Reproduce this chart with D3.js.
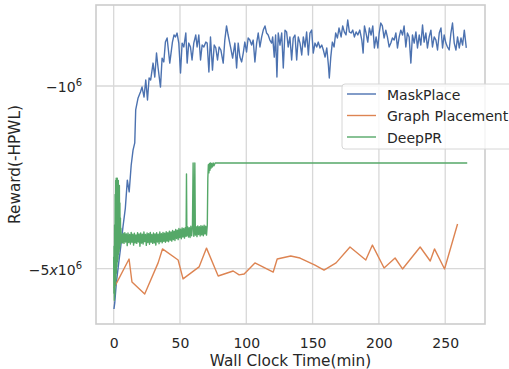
<!DOCTYPE html>
<html>
<head>
<meta charset="utf-8">
<script src="https://cdn.jsdelivr.net/npm/d3@7"></script>
<style>
  body { margin: 0; background: #fff; }
  text { font-family: "DejaVu Sans", sans-serif; fill: #262626; }
</style>
</head>
<body>
<div id="chart"></div>
<script>
// [time (min), reward magnitude in millions]  -> reward = -m * 1e6
var maskPlace = [
  [0.2,7.13],[0.8,6.76],[2.0,5.67],[3.8,4.75],[5.3,4.13],[7.0,3.46],[8.8,2.93],[10.3,2.29],
  [11.7,2.54],[13.2,2.01],[14.6,1.76],[15.9,1.65],[16.6,1.235],[18.4,1.111],[20.2,1.054],[21.4,1.009],
  [22.9,1.102],[24.2,0.948],[25.5,1.131],[26.7,0.932],[27.9,0.948],[29.7,0.817],[31.0,0.924],[32.3,0.748],
  [33.5,0.853],[35.3,1.009],[36.5,0.782],[37.8,0.809],[39.0,0.679],[40.3,0.655],[42.3,0.817],[44.3,0.679],
  [45.5,0.638],[46.6,0.649],[47.8,0.627],[49.1,0.685],[50.4,0.892],[51.6,0.685],[52.9,0.709],[54.4,0.627],
  [55.4,0.817],[56.6,0.685],[57.9,0.709],[59.1,0.795],[60.4,0.685],[61.9,0.638],[62.9,0.709],[64.2,0.638],
  [65.5,0.795],[66.7,0.697],[68.0,0.709],[69.5,0.679],[70.5,0.685],[71.8,0.884],[73.0,0.649],[74.5,0.869],
  [75.8,0.697],[77.0,0.715],[78.3,0.795],[79.5,0.709],[80.8,0.728],[82.6,0.817],[83.8,0.667],[85.1,0.589],
  [86.3,0.638],[88.1,0.709],[89.7,0.782],[91.4,0.685],[92.7,0.853],[93.9,0.685],[95.2,0.775],[96.5,0.809],
  [97.7,0.748],[98.9,0.679],[100.2,0.741],[101.4,0.655],[102.7,0.667],[104.0,0.697],[105.2,0.667],[106.5,0.809],
  [107.8,0.685],[109.0,0.627],[110.3,0.709],[111.6,0.649],[112.8,0.611],[114.1,0.589],[115.3,0.627],[116.5,0.638],
  [117.8,0.667],[119.1,0.685],[119.9,0.649],[121.1,0.775],[122.1,0.638],[123.1,0.924],[124.1,0.627],[125.4,0.697],
  [126.7,0.627],[127.9,0.853],[129.2,0.611],[130.4,0.621],[131.6,0.709],[132.9,0.649],[134.2,0.795],[135.4,0.655],
  [136.7,0.638],[138.0,0.795],[139.2,0.649],[140.5,0.685],[141.8,0.761],[143.0,0.649],[144.3,0.709],[145.5,0.621],
  [146.8,0.761],[148.0,0.627],[149.3,0.611],[150.5,0.748],[151.8,0.685],[153.1,0.709],[154.3,0.679],[155.6,0.715],
  [156.9,0.697],[158.1,0.728],[159.4,0.775],[160.7,0.715],[161.9,0.831],[162.6,0.932],[163.7,0.775],[164.9,0.679],
  [166.2,0.709],[167.4,0.627],[168.7,0.655],[169.9,0.600],[171.5,0.649],[172.7,0.589],[173.9,0.621],[175.2,0.638],
  [176.5,0.559],[177.7,0.621],[179.0,0.627],[180.3,0.611],[181.5,0.649],[182.8,0.621],[184.1,0.638],[185.6,0.611],
  [187.1,0.667],[188.1,0.748],[189.1,0.589],[190.3,0.627],[191.6,0.679],[192.8,0.600],[194.1,0.638],[195.4,0.589],
  [196.6,0.715],[197.9,0.649],[199.2,0.715],[200.2,0.627],[201.4,0.574],[202.6,0.589],[203.9,0.655],[205.2,0.611],
  [206.4,0.649],[207.7,0.709],[209.0,0.685],[210.2,0.655],[211.5,0.667],[212.8,0.627],[214.0,0.715],[215.3,0.649],
  [216.5,0.611],[217.8,0.638],[219.0,0.589],[220.3,0.709],[221.5,0.627],[222.8,0.649],[224.1,0.817],[225.3,0.638],
  [226.6,0.685],[227.9,0.621],[229.1,0.715],[230.4,0.638],[231.6,0.697],[232.9,0.584],[234.1,0.679],[235.4,0.627],
  [236.6,0.715],[237.9,0.649],[239.2,0.611],[240.4,0.709],[241.7,0.649],[243.0,0.667],[244.2,0.728],[245.5,0.627],
  [246.8,0.600],[248.0,0.715],[249.2,0.638],[250.5,0.685],[251.7,0.709],[253.0,0.728],[254.3,0.627],[255.5,0.574],
  [256.8,0.685],[258.1,0.728],[259.3,0.649],[260.6,0.715],[261.9,0.655],[263.1,0.697],[264.4,0.611],[265.9,0.715]
];

var graphPlacement = [
  [0.2,5.93],[11.6,4.59],[13.8,5.62],[23.4,6.25],[33.5,4.75],[36.8,4.20],[48.6,4.63],[52.3,5.47],
  [64.4,4.92],[70.0,4.17],[78.8,5.33],[90.1,5.10],[94.6,5.28],[98.4,5.24],[106.5,4.75],[120.3,5.15],
  [123.3,4.59],[133.5,4.47],[140.5,4.55],[151.8,4.84],[158.6,5.06],[167.7,4.75],[178.2,4.13],[190.1,4.63],
  [195.1,4.06],[203.9,4.97],[212.2,4.55],[217.8,5.01],[231.1,4.13],[238.7,4.67],[241.9,4.20],[249.5,5.01],
  [259.3,3.37]
];

var deepPR = [
  [0,4.5],[0.15,6.2],[0.3,4.1],[0.5,6.6],[0.7,3.4],[0.9,6.3],[1.1,2.6],[1.3,5.8],[1.5,2.3],[1.7,5.5],
  [1.9,2.25],[2.1,5.2],[2.3,2.3],[2.5,4.9],[2.7,2.25],[2.9,4.7],[3.1,2.35],[3.3,4.6],[3.5,2.3],[3.7,4.4],
  [3.9,2.5],[4.1,4.3],[4.3,2.4],[4.5,4.2],[4.7,2.8],[4.9,4.1],[5.1,3.2],[5.3,4.0],[5.5,3.5],[5.8,3.95],
  [6.1,3.7],[6.6,3.98],[7.2,3.66],[7.8,4.00],[8.4,3.64],[9.0,3.95],[9.6,3.68],[10.2,4.08],[10.8,3.65],
  [11.4,3.97],[12.0,3.70],[12.6,4.02],[13.2,3.63],[13.8,3.96],[14.4,3.69],[15.0,4.06],[15.6,3.66],[16.2,3.98],
  [16.8,3.71],[17.4,4.00],[18.0,3.64],[18.6,3.95],[19.2,3.68],[19.8,4.10],[20.4,3.65],[21.0,3.99],[21.6,3.69],
  [22.2,4.02],[22.8,3.62],[23.4,3.94],[24.0,3.70],[24.6,4.07],[25.2,3.65],[25.8,3.97],[26.4,3.67],[27.0,4.03],
  [27.6,3.63],[28.2,3.96],[28.8,3.70],[29.4,4.00],[30.0,3.65],[30.6,3.98],[31.2,3.68],[31.8,4.06],[32.4,3.64],
  [33.0,3.95],[33.6,3.69],[34.2,4.01],[34.8,3.62],[35.4,3.94],[36.0,3.67],[36.6,3.98],[37.2,3.63],[37.8,3.93],
  [38.4,3.66],[39.0,3.96],[39.6,3.61],[40.2,3.92],[40.8,3.64],[41.4,3.94],[42.0,3.59],[42.6,3.89],[43.2,3.62],
  [43.8,3.92],[44.4,3.57],[45.0,3.87],[45.6,3.59],[46.2,3.90],[46.8,3.54],[47.4,3.83],[48.0,3.56],[48.6,3.87],
  [49.2,3.51],[49.8,3.80],[50.4,3.53],[51.0,3.84],[51.6,3.49],[52.2,3.78],[52.8,3.51],[53.4,3.82],[54.0,3.48],
  [54.6,3.76],[54.9,2.17],[55.2,3.74],[55.8,3.46],[56.4,3.78],[57.0,3.48],[57.6,3.80],[58.2,3.44],[58.8,3.74],
  [59.4,3.47],[59.9,1.97],[60.4,3.76],[60.8,3.50],[61.2,1.97],[61.6,3.72],[62.2,3.45],[62.8,3.77],[63.4,3.43],
  [64.0,3.70],[64.6,3.45],[65.2,3.75],[65.8,3.42],[66.4,3.71],[67.0,3.44],[67.6,3.74],[68.2,3.41],[68.8,3.68],
  [69.4,3.44],[70.0,3.72],[70.6,3.40],[71.0,2.25],[71.4,2.0],[71.8,2.15],[72.2,1.98],[72.6,2.10],[73.0,1.97],
  [73.4,2.06],[73.8,1.98],[74.4,2.04],[75.0,1.97],[75.6,2.02],[76.5,1.97],[78.0,1.97],[266.6,1.97]
];

var seriesNames = ["MaskPlace", "Graph Placement", "DeepPR"];
var seriesColors = ["#4c72b0", "#dd8452", "#55a868"];
var seriesData = [maskPlace, graphPlacement, deepPR];

var xTicks = [0, 50, 100, 150, 200, 250];
var yTicks = [-1e6, -5e6];
var yTickLabels = [["\u221210", "6"], ["\u22125", "x", "10", "6"]];

var width = 509, height = 369;
var plot = {left: 96, right: 485, top: 5, bottom: 324};

var svg = d3.select("#chart").append("svg")
    .attr("width", width)
    .attr("height", height);

var x = d3.scaleLinear()
    .domain([-13.33, 280])
    .range([plot.left, plot.right]);

// log scale on negative rewards
var y = d3.scaleLog()
    .domain([-8.137e6, -4.898e5])
    .range([plot.bottom, plot.top]);

// grid
svg.append("g").selectAll("line")
    .data(xTicks)
  .enter().append("line")
    .attr("x1", function(d) { return x(d); })
    .attr("x2", function(d) { return x(d); })
    .attr("y1", plot.top)
    .attr("y2", plot.bottom)
    .attr("stroke", "#d8d8d8")
    .attr("stroke-width", 1.3);

svg.append("g").selectAll("line")
    .data(yTicks)
  .enter().append("line")
    .attr("x1", plot.left)
    .attr("x2", plot.right)
    .attr("y1", function(d) { return y(d); })
    .attr("y2", function(d) { return y(d); })
    .attr("stroke", "#d8d8d8")
    .attr("stroke-width", 1.3);

// x axis labels
var xAxis = d3.axisBottom(x).tickValues(xTicks).tickSize(0).tickPadding(0);
var gx = svg.append("g")
    .attr("transform", "translate(0," + plot.bottom + ")")
    .call(xAxis);
gx.select(".domain").remove();
gx.selectAll("text")
    .attr("y", 23.5)
    .attr("dy", null)
    .attr("fill", "#262626")
    .style("font-size", "14px")
    .style("font-family", "DejaVu Sans, sans-serif");

// y tick labels (math style)
var ylab = svg.append("g").selectAll("text")
    .data(yTicks)
  .enter().append("text")
    .attr("x", 82)
    .attr("y", function(d) { return y(d) + 6; })
    .attr("text-anchor", "end")
    .style("font-size", "14px");

ylab.each(function(d, i) {
  var t = d3.select(this);
  var parts = yTickLabels[i];
  if (parts.length == 2) {
    t.append("tspan").text(parts[0]);
    t.append("tspan").attr("dy", -6).style("font-size", "10px").text(parts[1]);
  } else {
    t.append("tspan").text(parts[0]);
    t.append("tspan").style("font-style", "italic").text(parts[1]);
    t.append("tspan").text(parts[2]);
    t.append("tspan").attr("dy", -6).style("font-size", "10px").text(parts[3]);
  }
});

// lines
var line = d3.line()
    .x(function(d) { return x(d[0]); })
    .y(function(d) { return y(-d[1] * 1e6); });

svg.append("g").selectAll("path")
    .data(seriesData)
  .enter().append("path")
    .attr("d", line)
    .attr("fill", "none")
    .attr("stroke", function(d, i) { return seriesColors[i]; })
    .attr("stroke-width", 1.4)
    .attr("stroke-linejoin", "round");

// frame
svg.append("rect")
    .attr("x", plot.left)
    .attr("y", plot.top)
    .attr("width", plot.right - plot.left)
    .attr("height", plot.bottom - plot.top)
    .attr("fill", "none")
    .attr("stroke", "#cccccc")
    .attr("stroke-width", 1.6);

// axis titles
svg.append("text")
    .attr("x", (plot.left + plot.right) / 2)
    .attr("y", 366)
    .attr("text-anchor", "middle")
    .style("font-size", "15.3px")
    .text("Wall Clock Time(min)");

svg.append("text")
    .attr("transform", "translate(19.5," + ((plot.top + plot.bottom) / 2) + ") rotate(-90)")
    .attr("text-anchor", "middle")
    .style("font-size", "15.3px")
    .text("Reward(-HPWL)");

// legend
var legend = svg.append("g").attr("transform", "translate(342,84)");
legend.append("rect")
    .attr("width", 180)
    .attr("height", 65)
    .attr("rx", 3)
    .attr("fill", "#fff")
    .attr("fill-opacity", 0.8)
    .attr("stroke", "#d6d6d6");

var item = legend.selectAll(".item")
    .data(seriesNames)
  .enter().append("g")
    .classed("item", true)
    .attr("transform", function(d, i) { return "translate(0," + (10 + i * 21.5) + ")"; });

item.append("line")
    .attr("x1", 5)
    .attr("x2", 34)
    .attr("stroke", function(d, i) { return seriesColors[i]; })
    .attr("stroke-width", 1.4);

item.append("text")
    .attr("x", 45)
    .attr("y", 5.5)
    .style("font-size", "14px")
    .text(function(d) { return d; });
</script>
</body>
</html>
